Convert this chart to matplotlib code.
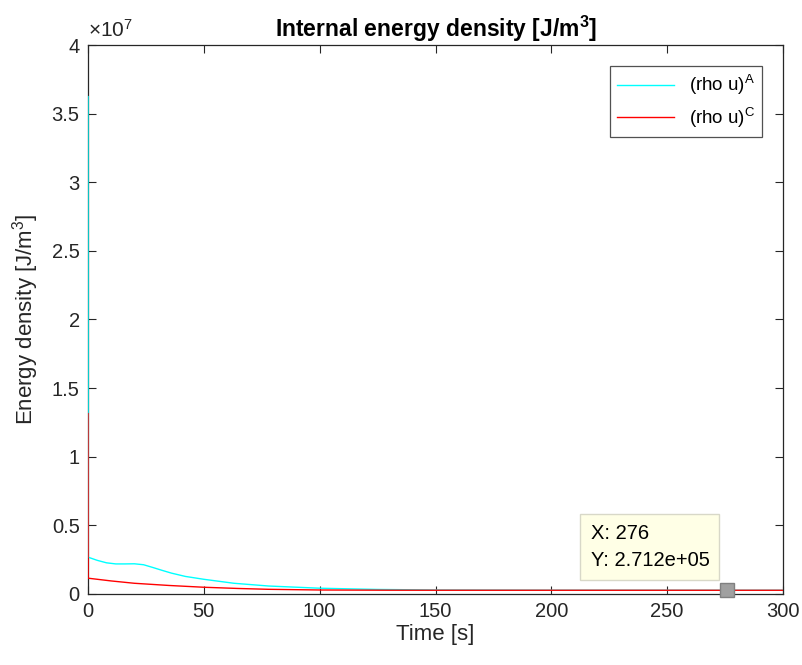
import matplotlib
matplotlib.use('Agg')
import matplotlib.pyplot as plt
from matplotlib.ticker import FuncFormatter

plt.rcParams['font.family'] = ['Liberation Sans', 'DejaVu Sans']
plt.rcParams['mathtext.default'] = 'regular'

# internal energy density, phase A
time_A = [0, 0.05, 4, 8, 12, 16, 20, 24, 28, 32, 36, 42, 50, 63, 78, 100, 125, 150, 200, 250, 300]
rho_u_A = [36.24e6, 2.68e6, 2.45e6, 2.27e6, 2.19e6, 2.19e6, 2.20e6, 2.13e6, 1.93e6, 1.72e6,
           1.52e6, 1.28e6, 1.07e6, 0.78e6, 0.58e6, 0.42e6, 0.33e6, 0.29e6, 0.275e6, 0.272e6, 0.271e6]

# internal energy density, phase C
time_C = [0, 0.05, 10, 20, 35, 50, 65, 78, 100, 130, 150, 200, 276, 300]
rho_u_C = [13.14e6, 1.15e6, 0.95e6, 0.78e6, 0.62e6, 0.49e6, 0.40e6, 0.34e6, 0.29e6,
           0.275e6, 0.272e6, 0.2712e6, 0.2712e6, 0.2712e6]

tip_x = 276
tip_y = 2.712e5

axcol = '#262626'

fig = plt.figure(figsize=(8.03, 6.65), dpi=100)
ax = fig.add_axes([0.1096, 0.1068, 0.8655, 0.8255])

ax.plot(time_A, rho_u_A, color='#00FFFF', lw=1.0, label='(rho u)$^A$', zorder=3)
ax.plot(time_C, rho_u_C, color='#FF0000', lw=1.0, label='(rho u)$^C$', zorder=3)

ax.set_xlim(0, 300)
ax.set_ylim(0, 4e7)
ax.set_xticks([0, 50, 100, 150, 200, 250, 300])
ax.set_yticks([0, 0.5e7, 1e7, 1.5e7, 2e7, 2.5e7, 3e7, 3.5e7, 4e7])
ax.yaxis.set_major_formatter(FuncFormatter(lambda v, p: f'{v / 1e7:g}'))
ax.text(0.0, 1.008, '$\\times$10$^7$', transform=ax.transAxes, ha='left', va='bottom',
        fontsize=15, color=axcol)

ax.tick_params(direction='in', top=True, right=True, length=6, width=0.8,
               labelsize=14.5, colors=axcol, pad=6)
for s in ax.spines.values():
    s.set_color(axcol)
    s.set_linewidth(0.9)

ax.set_xlabel('Time [s]', fontsize=16, color=axcol, labelpad=2)
ax.set_ylabel('Energy density [J/m$^3$]', fontsize=16, color=axcol, labelpad=8)
ax.set_title('Internal energy density [J/m$^3$]', fontsize=16.5, fontweight='bold', pad=6)

leg = ax.legend(loc='upper right', fontsize=13.5, handlelength=3.0, frameon=True, fancybox=False,
                borderaxespad=1.1, labelspacing=0.45)
leg.get_frame().set_edgecolor(axcol)
leg.get_frame().set_linewidth(0.9)

# data tip marker and label
ax.plot([tip_x], [tip_y], marker='s', ms=10, color='#A0A0A0', mec='#808080', clip_on=False, zorder=5)
ax.annotate('X: 276\nY: 2.712e+05', xy=(tip_x, tip_y), xytext=(-18, 20), textcoords='offset pixels',
            ha='right', va='bottom', multialignment='left', fontsize=14.5, linespacing=1.55,
            bbox=dict(boxstyle='square,pad=0.5', fc='#FFFFE6', ec='#D8D8C8', lw=1.0))

fig.savefig('out.png', dpi=100)
